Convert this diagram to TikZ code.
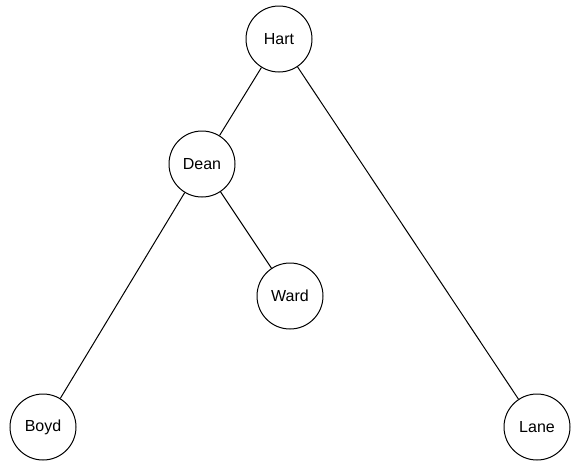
\documentclass[tikz,border=0pt]{standalone}
\usepackage{fontspec}
\setmainfont{Liberation Sans}
\begin{document}
\begin{tikzpicture}[x=1pt,y=-1pt,
  person/.style={circle,draw,line width=1pt,minimum size=66pt,inner sep=0pt,font=\fontsize{16}{18}\selectfont},
  edge/.style={line width=1pt}]
\useasboundingbox (0,0) rectangle (572,461);
\node[person] (hart) at (279,39) {Hart};
\node[person] (dean) at (202,164) {Dean};
\node[person] (ward) at (290,296) {Ward};
\node[person] (boyd) at (43,427) {Boyd};
\node[person] (lane) at (537,427) {Lane};
\draw[edge] (hart) -- (dean);
\draw[edge] (hart) -- (lane);
\draw[edge] (dean) -- (ward);
\draw[edge] (dean) -- (boyd);
\end{tikzpicture}
\end{document}
